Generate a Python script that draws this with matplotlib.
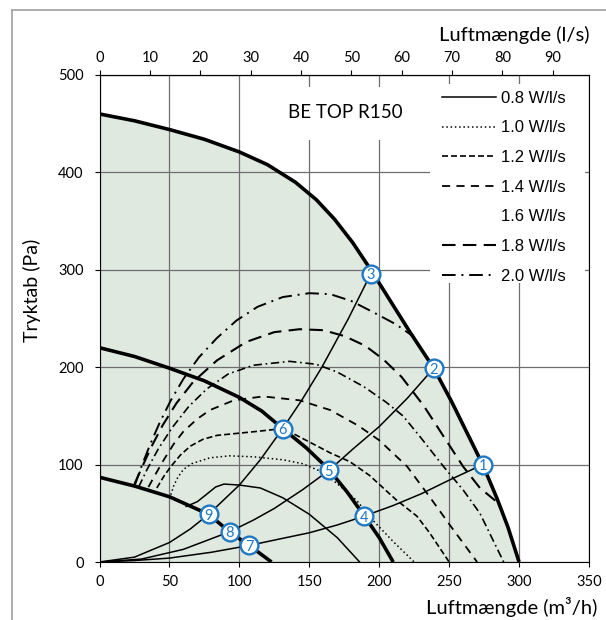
import matplotlib
matplotlib.use("Agg")
import matplotlib.pyplot as plt
from matplotlib.lines import Line2D
from matplotlib.patches import Rectangle

# fan curves (m3/h, Pa)
outer_x = [0, 25, 50, 75, 100, 120, 140, 155, 168, 181, 194, 208, 222, 239, 252, 263, 274, 284, 292, 300]
outer_y = [460, 453, 444, 434, 421, 408, 390, 372, 352, 328, 300, 268, 236, 199, 164, 132, 100, 66, 36, 0]
mid_x = [0, 25, 50, 75, 100, 116, 131, 148, 164, 177, 189, 200, 210]
mid_y = [220, 211, 199, 186, 169, 155, 137, 117, 95, 72, 48, 25, 0]
inner_x = [0, 25, 50, 78, 93, 107, 123]
inner_y = [87, 78, 67, 49, 31, 17, 0]

# system curves
sysA_x = [0, 25, 50, 65, 78, 100, 115, 131, 145, 159, 178, 194]
sysA_y = [0, 5, 20, 34, 49, 79, 105, 137, 167, 200, 250, 296]
sysB_x = [0, 30, 60, 93, 110, 125, 145, 164, 182, 200, 220, 239]
sysB_y = [0, 3, 13, 31, 43, 55, 74, 94, 117, 139, 168, 199]
sysC_x = [0, 25, 50, 80, 107, 130, 150, 170, 189, 210, 230, 250, 274]
sysC_y = [0, 1.5, 4, 10, 17, 24, 30, 38, 47, 58, 70, 84, 100]

# SFP curves
sfp_labels = ["0.8 W/l/s", "1.0 W/l/s", "1.2 W/l/s", "1.4 W/l/s", "1.6 W/l/s", "1.8 W/l/s", "2.0 W/l/s"]
c08_x = [62, 70, 77, 83, 89, 100, 115, 131, 150, 170, 186]
c08_y = [57, 62, 70, 77, 80, 79, 76, 66, 49, 25, 0]
c10_x = [51, 53, 56, 60, 66, 79, 93, 110, 131, 145, 160, 172, 184, 196, 210, 225]
c10_y = [69, 78, 87, 95, 101, 107, 109, 108, 105, 101, 92, 78, 63, 42, 21, 0]
c12_x = [41, 46, 51, 58, 65, 74, 84, 112, 131, 141, 165, 179, 193, 212, 227, 236, 250]
c12_y = [76, 88, 98, 110, 119, 126, 130, 134, 137, 130, 112, 103, 89, 64, 47, 30, 0]
c14_x = [35, 40, 46, 53, 60, 70, 79, 96, 117, 143, 165, 185, 200, 220, 236, 251, 270]
c14_y = [77, 90, 105, 121, 134, 147, 156, 166, 170, 166, 156, 140, 125, 98, 67, 37, 0]
c16_x = [28, 34, 42, 52, 64, 77, 92, 110, 136, 155, 170, 189, 205, 217, 229, 246, 260, 272, 289]
c16_y = [77, 95, 116, 138, 160, 178, 193, 202, 206, 203, 195, 180, 164, 150, 129, 98, 74, 50, 0]
c18_x = [25, 30, 37, 45, 55, 67, 84, 105, 125, 143, 160, 175, 190, 203, 216, 232, 246, 260, 272, 283]
c18_y = [80, 96, 118, 140, 163, 185, 207, 226, 236, 239, 238, 232, 222, 208, 190, 160, 129, 98, 76, 63]
c20_x = [25, 30, 36, 43, 51, 60, 71, 84, 98, 113, 131, 150, 165, 180, 195, 212, 225]
c20_y = [78, 98, 120, 143, 166, 188, 210, 230, 248, 262, 272, 276, 275, 268, 257, 244, 231]

# operating points 1-9
pt_x = [274, 239, 194, 189, 164, 131, 107, 93, 78]
pt_y = [100, 199, 296, 47, 94, 137, 17, 31, 49]

plt.rcParams['font.family'] = ['Lato', 'DejaVu Sans']
blue = '#1f78c4'
green = '#dfe9e0'

fig = plt.figure(figsize=(6.06, 6.20), dpi=100)
ax = fig.add_axes([99.5 / 606, 58 / 620, 489.5 / 606, 487 / 620])
ax.set_xlim(0, 350)
ax.set_ylim(0, 500)

ax.fill_between(outer_x, outer_y, 0, color=green, lw=0, zorder=0.3)
ax.set_xticks(range(0, 351, 50))
ax.set_yticks(range(0, 501, 100))
ax.set_axisbelow(True)
ax.grid(color='#6e6e6e', lw=0.9)

# white boxes behind legend and title
ax.add_patch(Rectangle((0.675, 0.573), 0.3166, 0.4086, transform=ax.transAxes,
                       facecolor='white', edgecolor='none', zorder=2))
ax.add_patch(Rectangle((0.338, 0.8665), 0.317, 0.1088, transform=ax.transAxes,
                       facecolor='white', edgecolor='none', zorder=2))

thick = dict(color='black', lw=2.6, zorder=4, solid_capstyle='butt', solid_joinstyle='round')
ax.plot(outer_x, outer_y, **thick)
ax.plot(mid_x, mid_y, **thick)
ax.plot(inner_x, inner_y, **thick)

thin = dict(color='black', lw=1.1, zorder=3)
ax.plot(sysA_x, sysA_y, **thin)
ax.plot(sysB_x, sysB_y, **thin)
ax.plot(sysC_x, sysC_y, **thin)

l08, = ax.plot(c08_x, c08_y, color='black', lw=1.1, zorder=3)
l10, = ax.plot(c10_x, c10_y, color='black', lw=1.1, ls=(0, (1.0, 1.8)), zorder=3)
l12, = ax.plot(c12_x, c12_y, color='black', lw=1.2, ls=(0, (3.6, 1.8)), zorder=3)
l14, = ax.plot(c14_x, c14_y, color='black', lw=1.3, ls=(0, (4.5, 3.5)), zorder=3)
l16, = ax.plot(c16_x, c16_y, color='black', lw=1.2, ls=(0, (5, 2.2, 1, 2.2)), zorder=3)
l18, = ax.plot(c18_x, c18_y, color='black', lw=1.5, ls=(0, (6.5, 3.5)), zorder=3)
l20, = ax.plot(c20_x, c20_y, color='black', lw=1.4, ls=(0, (7, 3, 1, 3)), zorder=3)

ax.plot(pt_x, pt_y, 'o', ms=12.8, mfc='white', mec=blue, mew=1.7, zorder=6)
for i, (px, py) in enumerate(zip(pt_x, pt_y)):
    ax.text(px, py, str(i + 1), ha='center', va='center_baseline', color=blue,
            fontsize=10.5, zorder=7)

blank = Line2D([], [], ls='none')
ax.legend([l08, l10, l12, l14, blank, l18, l20], sfp_labels,
          loc='upper left', bbox_to_anchor=(0.69, 0.978), frameon=False,
          prop={'family': 'Liberation Sans', 'size': 12},
          handlelength=3.2, handletextpad=0.3, labelspacing=0.88,
          borderpad=0.3, borderaxespad=0)

ax.text(0.5015, 0.922, 'BE TOP R150', transform=ax.transAxes, ha='center',
        va='center', fontsize=13.5, zorder=5)

ax.tick_params(direction='out', length=3.5, width=0.8, labelsize=10.5, color='black')
ax.tick_params(axis='y', pad=8)
ax.tick_params(axis='x', pad=6)
for s in ax.spines.values():
    s.set_linewidth(0.8)

secax = ax.secondary_xaxis('top', functions=(lambda x: x / 3.6, lambda x: x * 3.6))
secax.set_xticks(range(0, 100, 10))
secax.tick_params(direction='out', length=3.5, width=0.8, labelsize=10.5, pad=4)

ax.set_xlabel('Luftmængde (m³/h)', fontsize=14.5)
ax.xaxis.set_label_coords(1.018, -0.092)
ax.xaxis.label.set_ha('right')
ax.xaxis.label.set_va('center')
ax.text(1.002, 1.082, 'Luftmængde (l/s)', transform=ax.transAxes, ha='right',
        va='center', fontsize=14.5)
ax.set_ylabel('Tryktab (Pa)', fontsize=14)
ax.yaxis.set_label_coords(-0.138, 0.558)
ax.yaxis.label.set_va('center')

# frame lines of the original picture
fig.add_artist(Line2D([12 / 606, 12 / 606], [0, 1 - 10 / 620], transform=fig.transFigure,
                      color='#a0a0a0', lw=1.2))
fig.add_artist(Line2D([12 / 606, 1], [1 - 10 / 620, 1 - 10 / 620], transform=fig.transFigure,
                      color='#a0a0a0', lw=1.2))

fig.savefig('out.png', dpi=100)
